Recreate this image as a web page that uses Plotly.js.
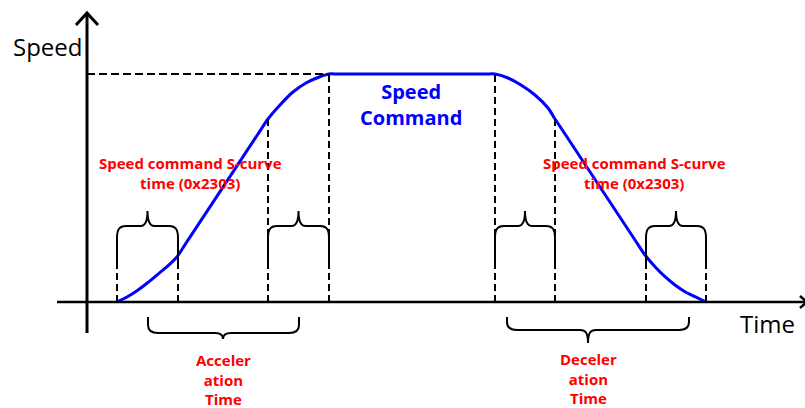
<!DOCTYPE html>
<html>
<head>
<meta charset="utf-8">
<script src="https://cdn.plot.ly/plotly-3.0.1.min.js"></script>
<style>html,body{margin:0;padding:0;background:#fff;}#chart{width:805px;height:408px;}</style>
</head>
<body>
<div id="chart"></div>
<script>
// ---- data (time units, speed units) ----
const curveTime  = [30, 40, 50, 60, 70, 80, 90, 100, 171, 181, 193, 206, 219, 231, 242, 252, 398, 408, 421, 434, 448, 461, 468, 478, 548, 558, 568, 578, 588, 598, 608, 619];
const curveSpeed = [0, 5, 11.3, 18.7, 27, 35.3, 45.3, 60.4, 168, 183, 197, 210, 219, 224.5, 228, 228, 228, 228, 224, 217, 207, 194, 183, 168, 62, 47, 35.3, 25.3, 17, 10.3, 5.3, 0];
const maxSpeed = 228;
const edgeTimes = [30, 91, 181, 242, 408, 468, 559, 619];
const edgeDashTop = [40, 40, 183, 228, 228, 183, 40, 40];
const sCurveBraces = [[30, 91], [181, 242], [408, 468], [559, 619]];
const accelSpan = [61, 212, 136];   // start, end, tip
const decelSpan = [420, 602, 501];
const labels = {
  yTitle: 'Speed', xTitle: 'Time',
  command: 'Speed<br>Command',
  sCurve: 'Speed command S-curve<br>time (0x2303)',
  accel: 'Acceler<br>ation<br>Time',
  decel: 'Deceler<br>ation<br>Time'
};

const shapes = [];
const blk = {color: '#000', width: 2};
// axes
shapes.push({type: 'line', xref: 'x', yref: 'y', x0: -30, x1: 730, y0: 0, y1: 0, line: {color: '#000', width: 2.5}});
shapes.push({type: 'line', xref: 'x', yref: 'y', x0: 0, x1: 0, y0: -31, y1: 289, line: {color: '#000', width: 3}});
shapes.push({type: 'path', xref: 'x', yref: 'y', path: 'M -11,277 L 0,289 L 11,277', line: {color: '#000', width: 3}});
shapes.push({type: 'path', xref: 'x', yref: 'y', path: 'M 713,6 L 720,0 L 713,-6', line: {color: '#000', width: 2.5}});
// max speed dashed
shapes.push({type: 'line', xref: 'x', yref: 'y', x0: 0, x1: edgeTimes[3], y0: maxSpeed, y1: maxSpeed, line: {color: '#000', width: 2, dash: '8px,4px'}});
// vertical dashed lines
edgeTimes.forEach((t, i) => {
  shapes.push({type: 'line', xref: 'x', yref: 'y', x0: t, x1: t, y0: 0, y1: edgeDashTop[i], line: {color: '#000', width: 2, dash: '7px,4px'}});
});
// top braces (S-curve spans)
sCurveBraces.forEach(([a, b]) => {
  const c = (a + b) / 2;
  const p = `M ${a},40 L ${a},64 C ${a},72 ${a+2},76 ${a+9},76 L ${c-7},76 C ${c-3},76 ${c},80 ${c},91 ` +
            `C ${c},80 ${c+3},76 ${c+7},76 L ${b-9},76 C ${b-2},76 ${b},72 ${b},64 L ${b},40`;
  shapes.push({type: 'path', xref: 'x', yref: 'y', path: p, line: blk});
});
// bottom braces
function bottomBrace([a, b, c], h, tip) {
  return `M ${a},-15 L ${a},${h+8} C ${a},${h+3} ${a+3},${h} ${a+10},${h} L ${c-8},${h} C ${c-3},${h} ${c},${h-2} ${c},${tip} ` +
         `C ${c},${h-2} ${c+3},${h} ${c+8},${h} L ${b-10},${h} C ${b-3},${h} ${b},${h+3} ${b},${h+8} L ${b},-15`;
}
shapes.push({type: 'path', xref: 'x', yref: 'y', path: bottomBrace(accelSpan, -31, -37), line: blk});
shapes.push({type: 'path', xref: 'x', yref: 'y', path: bottomBrace(decelSpan, -28, -41), line: blk});

const red = {family: 'Open Sans, sans-serif', size: 15, color: '#ff0000'};
const annotations = [
  {x: -40, y: 256, text: labels.yTitle, font: {family: 'Open Sans, sans-serif', size: 24, color: '#000'}},
  {x: 680, y: -21, text: labels.xTitle, font: {family: 'Open Sans, sans-serif', size: 24, color: '#000'}},
  {x: 324, y: 198, text: '<b>' + labels.command + '</b>', font: {family: 'Open Sans, sans-serif', size: 20, color: '#0000ff'}},
  {x: 103.5, y: 129, text: '<b>' + labels.sCurve + '</b>', font: red},
  {x: 547, y: 129, text: '<b>' + labels.sCurve + '</b>', font: red},
  {x: 136, y: -77, text: '<b>' + labels.accel + '</b>', font: red},
  {x: 501, y: -76, text: '<b>' + labels.decel + '</b>', font: red}
].map(a => Object.assign({xref: 'x', yref: 'y', showarrow: false, xanchor: 'center', yanchor: 'middle'}, a));

const trace = {x: curveTime, y: curveSpeed, type: 'scatter', mode: 'lines',
  line: {color: '#0000ff', width: 3, shape: 'spline', smoothing: 0.8}, hoverinfo: 'skip'};

const layout = {
  width: 805, height: 408,
  margin: {l: 0, r: 0, t: 0, b: 0},
  paper_bgcolor: '#fff', plot_bgcolor: '#fff',
  showlegend: false,
  xaxis: {range: [-87, 718], visible: false, fixedrange: true},
  yaxis: {range: [-106, 302], visible: false, fixedrange: true},
  shapes: shapes,
  annotations: annotations
};
Plotly.newPlot('chart', [trace], layout, {staticPlot: true, displayModeBar: false});
</script>
</body>
</html>
